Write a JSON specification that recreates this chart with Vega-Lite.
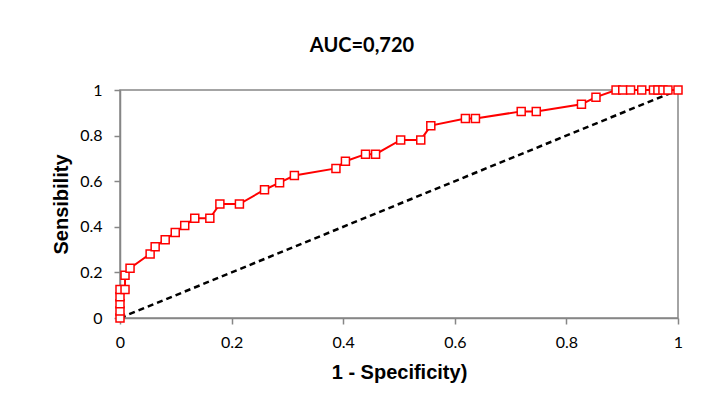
{
  "$schema": "https://vega.github.io/schema/vega-lite/v6.json",
  "width": 558,
  "height": 228,
  "autosize": {"type": "none"},
  "padding": {"left": 120, "top": 90, "right": 39, "bottom": 98},
  "background": "white",
  "title": {
    "text": "AUC=0,720",
    "font": "Lato",
    "fontSize": 20,
    "fontWeight": "bold",
    "color": "#000000",
    "anchor": "middle",
    "dx": -37,
    "offset": 26
  },
  "config": {
    "view": {"stroke": "#868686", "strokeWidth": 1.5},
    "axis": {
      "domainColor": "#868686",
      "domainWidth": 1.5,
      "tickColor": "#868686",
      "tickWidth": 1.5,
      "tickSize": 6,
      "grid": false,
      "format": "~g",
      "labelFont": "Lato",
      "labelFontSize": 16,
      "labelColor": "#000000",
      "titleFont": "Liberation Sans",
      "titleFontSize": 20,
      "titleFontWeight": "bold",
      "titleColor": "#000000"
    }
  },
  "datasets": {
    "roc": [
      {"i": 0, "fpr": 0, "tpr": 0},
      {"i": 1, "fpr": 0, "tpr": 0.03125},
      {"i": 2, "fpr": 0, "tpr": 0.0625},
      {"i": 3, "fpr": 0, "tpr": 0.09375},
      {"i": 4, "fpr": 0, "tpr": 0.125},
      {"i": 5, "fpr": 0.009, "tpr": 0.125},
      {"i": 6, "fpr": 0.009, "tpr": 0.1875},
      {"i": 7, "fpr": 0.018, "tpr": 0.21875},
      {"i": 8, "fpr": 0.054, "tpr": 0.28125},
      {"i": 9, "fpr": 0.063, "tpr": 0.3125},
      {"i": 10, "fpr": 0.081, "tpr": 0.34375},
      {"i": 11, "fpr": 0.099, "tpr": 0.375},
      {"i": 12, "fpr": 0.116, "tpr": 0.40625},
      {"i": 13, "fpr": 0.134, "tpr": 0.4375},
      {"i": 14, "fpr": 0.161, "tpr": 0.4375},
      {"i": 15, "fpr": 0.179, "tpr": 0.5},
      {"i": 16, "fpr": 0.214, "tpr": 0.5},
      {"i": 17, "fpr": 0.259, "tpr": 0.5625},
      {"i": 18, "fpr": 0.286, "tpr": 0.59375},
      {"i": 19, "fpr": 0.3125, "tpr": 0.625},
      {"i": 20, "fpr": 0.387, "tpr": 0.65625},
      {"i": 21, "fpr": 0.404, "tpr": 0.6875},
      {"i": 22, "fpr": 0.44, "tpr": 0.71875},
      {"i": 23, "fpr": 0.458, "tpr": 0.71875},
      {"i": 24, "fpr": 0.503, "tpr": 0.78125},
      {"i": 25, "fpr": 0.539, "tpr": 0.78125},
      {"i": 26, "fpr": 0.557, "tpr": 0.84375},
      {"i": 27, "fpr": 0.619, "tpr": 0.875},
      {"i": 28, "fpr": 0.637, "tpr": 0.875},
      {"i": 29, "fpr": 0.719, "tpr": 0.90625},
      {"i": 30, "fpr": 0.746, "tpr": 0.90625},
      {"i": 31, "fpr": 0.827, "tpr": 0.9375},
      {"i": 32, "fpr": 0.853, "tpr": 0.96875},
      {"i": 33, "fpr": 0.889, "tpr": 1},
      {"i": 34, "fpr": 0.901, "tpr": 1},
      {"i": 35, "fpr": 0.915, "tpr": 1},
      {"i": 36, "fpr": 0.935, "tpr": 1},
      {"i": 37, "fpr": 0.956, "tpr": 1},
      {"i": 38, "fpr": 0.964, "tpr": 1},
      {"i": 39, "fpr": 0.973, "tpr": 1},
      {"i": 40, "fpr": 0.982, "tpr": 1},
      {"i": 41, "fpr": 1, "tpr": 1}
    ],
    "diag": [
      {"fpr": 0, "tpr": 0},
      {"fpr": 1, "tpr": 1}
    ]
  },
  "layer": [
    {
      "data": {"name": "diag"},
      "mark": {"type": "line", "color": "#000000", "strokeWidth": 2.5, "strokeDash": [6, 4]},
      "encoding": {
        "x": {"field": "fpr", "type": "quantitative"},
        "y": {"field": "tpr", "type": "quantitative"}
      }
    },
    {
      "data": {"name": "roc"},
      "mark": {
        "type": "line",
        "color": "#FF0000",
        "strokeWidth": 2,
        "point": {"shape": "square", "filled": true, "fill": "white", "stroke": "#FF0000", "strokeWidth": 1.5, "size": 64, "opacity": 1}
      },
      "encoding": {
        "x": {
          "field": "fpr", "type": "quantitative",
          "scale": {"domain": [0, 1], "nice": false},
          "axis": {"title": "1 - Specificity)", "values": [0, 0.2, 0.4, 0.6, 0.8, 1], "labelPadding": 10, "titlePadding": 12, "labelFlush": false}
        },
        "y": {
          "field": "tpr", "type": "quantitative",
          "scale": {"domain": [0, 1], "nice": false},
          "axis": {"title": "Sensibility", "values": [0, 0.2, 0.4, 0.6, 0.8, 1], "labelPadding": 12, "titlePadding": 8, "labelFlush": false}
        },
        "order": {"field": "i", "type": "quantitative"}
      }
    }
  ]
}
